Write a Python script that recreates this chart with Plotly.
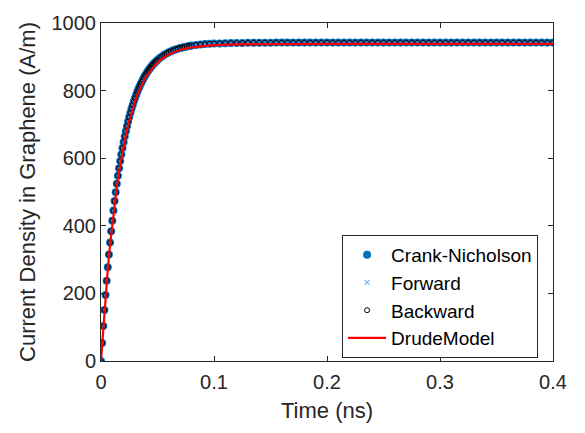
import plotly.graph_objects as go

# ---- data ----
# time samples of the numerical solutions (ns)
t_numeric = [
    0.000, 0.001, 0.002, 0.003, 0.004, 0.005, 0.006, 0.007, 0.008, 0.009,
    0.010, 0.011, 0.012, 0.013, 0.014, 0.015, 0.016, 0.017, 0.018, 0.019,
    0.020, 0.021, 0.022, 0.023, 0.024, 0.025, 0.026, 0.027, 0.028, 0.029,
    0.030, 0.031, 0.032, 0.033, 0.034, 0.035, 0.036, 0.037, 0.038, 0.039,
    0.040, 0.041, 0.042, 0.043, 0.044, 0.045, 0.046, 0.047, 0.048, 0.049,
    0.050, 0.052, 0.054, 0.056, 0.058, 0.060, 0.062, 0.064, 0.066, 0.068,
    0.070, 0.072, 0.074, 0.076, 0.078, 0.080, 0.084, 0.088, 0.092, 0.096,
    0.100, 0.105, 0.110, 0.115, 0.120, 0.125, 0.130, 0.135, 0.140, 0.145,
    0.150, 0.155, 0.160, 0.165, 0.170, 0.175, 0.180, 0.185, 0.190, 0.195,
    0.200, 0.205, 0.210, 0.215, 0.220, 0.225, 0.230, 0.235, 0.240, 0.245,
    0.250, 0.255, 0.260, 0.265, 0.270, 0.275, 0.280, 0.285, 0.290, 0.295,
    0.300, 0.305, 0.310, 0.315, 0.320, 0.325, 0.330, 0.335, 0.340, 0.345,
    0.350, 0.355, 0.360, 0.365, 0.370, 0.375, 0.380, 0.385, 0.390, 0.395,
    0.400,
]

# current density (A/m) of the numerical schemes (they coincide visually)
j_crank_nicholson = [
    0.0, 53.2, 103.4, 150.8, 195.5, 237.6, 277.4, 314.9, 350.4, 383.8,
    415.3, 445.0, 473.1, 499.6, 524.6, 548.2, 570.4, 591.4, 611.2, 629.9,
    647.5, 664.1, 679.8, 694.6, 708.6, 721.8, 734.2, 746.0, 757.0, 767.5,
    777.3, 786.6, 795.4, 803.7, 811.5, 818.9, 825.8, 832.4, 838.6, 844.4,
    849.9, 855.1, 860.0, 864.7, 869.0, 873.2, 877.0, 880.7, 884.2, 887.4,
    890.5, 896.2, 901.2, 905.7, 909.7, 913.2, 916.4, 919.2, 921.7, 923.9,
    925.9, 927.7, 929.3, 930.7, 931.9, 933.1, 934.8, 936.3, 937.6, 938.4,
    939.2, 939.7, 940.2, 940.6, 940.9, 941.1, 941.3, 941.5, 941.6, 941.7,
    941.8, 942.0, 942.0, 942.0, 942.0, 942.0, 942.0, 942.0, 942.0, 942.0,
    942.0, 942.0, 942.0, 942.0, 942.0, 942.0, 942.0, 942.0, 942.0, 942.0,
    942.0, 942.0, 942.0, 942.0, 942.0, 942.0, 942.0, 942.0, 942.0, 942.0,
    942.0, 942.0, 942.0, 942.0, 942.0, 942.0, 942.0, 942.0, 942.0, 942.0,
    942.0, 942.0, 942.0, 942.0, 942.0, 942.0, 942.0, 942.0, 942.0, 942.0,
    942.0,
]
j_forward = list(j_crank_nicholson)
j_backward = list(j_crank_nicholson)

# analytic Drude model
t_drude = [
    0.000, 0.002, 0.004, 0.006, 0.008, 0.010, 0.012, 0.014, 0.016, 0.018,
    0.020, 0.022, 0.024, 0.026, 0.028, 0.030, 0.032, 0.034, 0.036, 0.038,
    0.040, 0.044, 0.048, 0.052, 0.056, 0.060, 0.066, 0.072, 0.080, 0.090,
    0.100, 0.120, 0.150, 0.200, 0.300, 0.400,
]
j_drude = [
    0.0, 100.8, 190.7, 271.0, 342.6, 406.6, 463.7, 514.6, 560.1, 600.7,
    636.9, 669.3, 698.1, 723.9, 746.9, 767.4, 785.8, 802.1, 816.7, 829.7,
    841.4, 861.0, 876.7, 889.1, 899.1, 907.0, 915.9, 922.3, 928.0, 932.3,
    934.8, 937.0, 937.8, 938.0, 938.0, 938.0,
]

x_ticks = [0, 0.1, 0.2, 0.3, 0.4]
x_tick_labels = ["0", "0.1", "0.2", "0.3", "0.4"]
y_ticks = [0, 200, 400, 600, 800, 1000]
y_tick_labels = ["0", "200", "400", "600", "800", "1000"]

FONT = "Liberation Sans, Arial, sans-serif"
AX = "#262626"

fig = go.Figure()
fig.add_trace(go.Scatter(
    x=t_numeric, y=j_crank_nicholson, mode="markers", name="Crank-Nicholson",
    marker=dict(symbol="circle", size=8, color="#0072BD", line=dict(width=0)),
))
fig.add_trace(go.Scatter(
    x=t_numeric, y=j_forward, mode="markers", name="Forward",
    marker=dict(symbol="x-thin", size=5, color="#3A8FE8",
                line=dict(width=1, color="#3A8FE8")),
))
fig.add_trace(go.Scatter(
    x=t_numeric, y=j_backward, mode="markers", name="Backward",
    marker=dict(symbol="circle-open", size=5, color="#000000",
                line=dict(width=1, color="#000000")),
))
fig.add_trace(go.Scatter(
    x=t_drude, y=j_drude, mode="lines", name="DrudeModel",
    line=dict(color="#FF0000", width=2.2),
))

axis_common = dict(
    showline=True, linecolor=AX, linewidth=1, mirror="ticks",
    ticks="inside", ticklen=5, tickwidth=1, tickcolor=AX,
    showgrid=False, zeroline=False,
    tickfont=dict(family=FONT, size=20, color=AX),
)

fig.update_layout(
    width=585, height=433,
    margin=dict(l=101, r=32, t=12, b=72),
    paper_bgcolor="white", plot_bgcolor="white",
    font=dict(family=FONT, color=AX),
    showlegend=True,
    legend=dict(
        x=0.967, y=0.373, xanchor="right", yanchor="top",
        bgcolor="white", bordercolor=AX, borderwidth=1,
        font=dict(family=FONT, size=19, color="#000000"),
        tracegroupgap=0, itemwidth=38,
    ),
    xaxis=dict(
        range=[0, 0.4], tickvals=x_ticks, ticktext=x_tick_labels,
        ticklabelstandoff=3,
        title=dict(text="Time (ns)", font=dict(family=FONT, size=22, color=AX),
                   standoff=10),
        **axis_common,
    ),
    yaxis=dict(
        range=[0, 1000], tickvals=y_ticks, ticktext=y_tick_labels,
        title=dict(text="Current Density in Graphene (A/m)",
                   font=dict(family=FONT, size=22, color=AX), standoff=9),
        **axis_common,
    ),
)

fig.write_html("out.html")
